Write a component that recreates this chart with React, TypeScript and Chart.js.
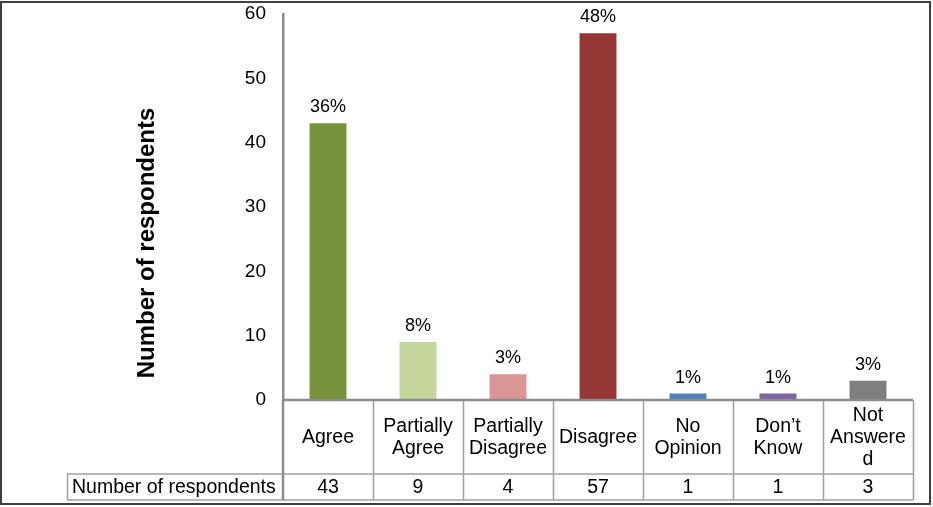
import React, { useEffect, useRef } from "react";
import { Chart, registerables } from "chart.js";

Chart.register(...registerables);

const categories: string[][] = [
  ["Agree"],
  ["Partially", "Agree"],
  ["Partially", "Disagree"],
  ["Disagree"],
  ["No", "Opinion"],
  ["Don\u2019t", "Know"],
  ["Not", "Answere", "d"],
];
const respondents: number[] = [43, 9, 4, 57, 1, 1, 3];
const percentLabels: string[] = ["36%", "8%", "3%", "48%", "1%", "1%", "3%"];
const barColors: string[] = ["#77933C", "#C3D69B", "#D99694", "#953735", "#4F81BD", "#8064A2", "#7F7F7F"];
const yTicks = { min: 0, max: 60, step: 10 };
const rowLabel = "Number of respondents";
const yTitle = "Number of respondents";

const FONT = "'Liberation Sans', Arial, sans-serif";

const overlayPlugin = {
  id: "overlay",
  afterDraw(chart: any) {
    const ctx = chart.ctx as CanvasRenderingContext2D;
    const area = chart.chartArea;
    const xs = chart.scales.x;
    const n = categories.length;
    const left = area.left;
    const right = area.right;
    const colW = (right - left) / n;
    const headerTop = area.bottom;
    const rowTop = 474;
    const rowBottom = 500;
    const labelLeft = 67;

    ctx.save();
    // percent labels
    const meta = chart.getDatasetMeta(0);
    ctx.fillStyle = "#000";
    ctx.font = `18px ${FONT}`;
    ctx.textAlign = "center";
    ctx.textBaseline = "alphabetic";
    meta.data.forEach((bar: any, i: number) => {
      ctx.fillText(percentLabels[i], bar.x, bar.y - 11);
    });

    // table lines
    ctx.strokeStyle = "#A0A0A0";
    ctx.lineWidth = 1.5;
    ctx.beginPath();
    for (let i = 1; i <= n; i++) {
      const x = Math.round(left + colW * i) + 0.5;
      ctx.moveTo(x, headerTop);
      ctx.lineTo(x, rowBottom);
    }
    ctx.moveTo(labelLeft, rowTop);
    ctx.lineTo(right, rowTop);
    ctx.moveTo(labelLeft, rowBottom);
    ctx.lineTo(right, rowBottom);
    ctx.moveTo(labelLeft + 0.5, rowTop);
    ctx.lineTo(labelLeft + 0.5, rowBottom);
    ctx.stroke();

    ctx.strokeStyle = "#8C8C8C";
    ctx.lineWidth = 2.5;
    ctx.beginPath();
    ctx.moveTo(left, headerTop);
    ctx.lineTo(right, headerTop);
    ctx.moveTo(left, headerTop);
    ctx.lineTo(left, rowBottom);
    ctx.stroke();

    // header texts
    ctx.fillStyle = "#000";
    ctx.font = `19.5px ${FONT}`;
    ctx.textBaseline = "middle";
    const lh = 22;
    categories.forEach((lines, i) => {
      const cx = xs.getPixelForValue(i);
      const cy = (headerTop + rowTop) / 2 + 1;
      const start = cy - ((lines.length - 1) * lh) / 2;
      lines.forEach((t, j) => ctx.fillText(t, cx, start + j * lh));
      ctx.fillText(String(respondents[i]), cx, (rowTop + rowBottom) / 2 + 1);
    });
    ctx.textAlign = "left";
    ctx.fillText(rowLabel, labelLeft + 5, (rowTop + rowBottom) / 2 + 1);

    // y title
    ctx.save();
    ctx.translate(147, 243);
    ctx.rotate(-Math.PI / 2);
    ctx.textAlign = "center";
    ctx.textBaseline = "middle";
    ctx.font = `bold 24px ${FONT}`;
    ctx.fillText(yTitle, 0, 0);
    ctx.restore();

    // outer frame
    ctx.strokeStyle = "#404040";
    ctx.lineWidth = 2;
    ctx.strokeRect(1, 2, 929, 502);
    ctx.restore();
  },
};

export default function App() {
  const ref = useRef<HTMLCanvasElement | null>(null);
  useEffect(() => {
    if (!ref.current) return;
    const chart = new Chart(ref.current, {
      type: "bar",
      data: {
        labels: categories.map((c) => c.join(" ")),
        datasets: [
          {
            data: respondents,
            backgroundColor: barColors,
            borderWidth: 0,
            barPercentage: 0.41,
            categoryPercentage: 1,
          },
        ],
      },
      options: {
        responsive: false,
        animation: false,
        layout: { padding: { left: 0, top: 14, right: 933 - 913, bottom: 507 - 400 } },
        plugins: { legend: { display: false }, tooltip: { enabled: false } },
        scales: {
          x: { display: false, grid: { display: false }, offset: true },
          y: {
            min: yTicks.min,
            max: yTicks.max,
            afterFit: (s: any) => {
              s.width = 283;
              s.paddingTop = 0;
              s.paddingBottom = 0;
            },
            ticks: {
              stepSize: yTicks.step,
              color: "#000",
              font: { family: FONT, size: 19 },
              padding: 17,
            },
            grid: { display: false, drawTicks: false },
            border: { display: true, color: "#8C8C8C", width: 2.5 },
          },
        },
      },
      plugins: [overlayPlugin],
    });
    return () => chart.destroy();
  }, []);
  return (
    <div style={{ position: "absolute", left: 0, top: 0, width: 933, height: 507, background: "#fff" }}>
      <canvas ref={ref} width={933} height={507} style={{ display: "block" }} />
    </div>
  );
}
